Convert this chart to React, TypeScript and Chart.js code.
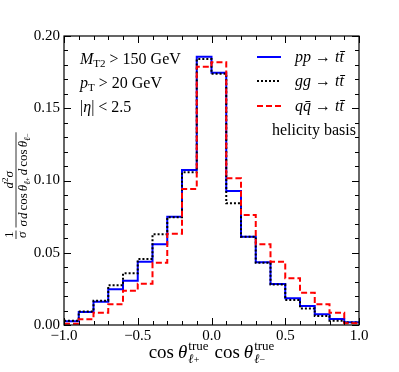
import React, { useEffect, useRef } from 'react';
import { Chart, registerables } from 'chart.js';

Chart.register(...registerables);

// ---- data ----
const binEdges = [-1.0, -0.9, -0.8, -0.7, -0.6, -0.5, -0.4, -0.3, -0.2, -0.1, 0.0, 0.1, 0.2, 0.3, 0.4, 0.5, 0.6, 0.7, 0.8, 0.9, 1.0];
const ppValues = [0.0026, 0.0090, 0.0161, 0.0247, 0.0307, 0.0438, 0.0558, 0.0750, 0.1073, 0.1857, 0.1746, 0.0927, 0.0611, 0.0434, 0.0283, 0.0185, 0.0131, 0.0074, 0.0042, 0.0019];
const ggValues = [0.0030, 0.0094, 0.0168, 0.0275, 0.0358, 0.0456, 0.0628, 0.0745, 0.1057, 0.1841, 0.1739, 0.0842, 0.0611, 0.0430, 0.0280, 0.0173, 0.0115, 0.0062, 0.0030, 0.0017];
const qqValues = [0.0008, 0.0040, 0.0085, 0.0143, 0.0237, 0.0286, 0.0431, 0.0632, 0.0941, 0.1788, 0.1818, 0.1015, 0.0761, 0.0558, 0.0438, 0.0323, 0.0224, 0.0143, 0.0085, 0.0012];
const xTickStep = 0.5;
const yTickStep = 0.05;
const cutLines = ['M_T2 > 150 GeV', 'p_T > 20 GeV', '|η| < 2.5'];
const basisLabel = 'helicity basis';

const FAM = '"Liberation Serif", "Times New Roman", serif';

type Seg = { t: string; size: number; it?: boolean; dy?: number; gap?: number };

function fontOf(s: Seg) {
  return `${s.it ? 'italic ' : ''}${s.size}px ${FAM}`;
}
function segsWidth(ctx: CanvasRenderingContext2D, segs: Seg[]) {
  let w = 0;
  for (const s of segs) {
    ctx.font = fontOf(s);
    w += ctx.measureText(s.t).width + (s.gap || 0);
  }
  return w;
}
function drawSegs(ctx: CanvasRenderingContext2D, segs: Seg[], x: number, y: number) {
  let cx = x;
  for (const s of segs) {
    ctx.font = fontOf(s);
    ctx.fillText(s.t, cx, y + (s.dy || 0));
    cx += ctx.measureText(s.t).width + (s.gap || 0);
  }
  return cx;
}

function stepData(values: number[]) {
  return binEdges.map((x, i) => ({ x, y: values[Math.min(i, values.length - 1)] }));
}

function fmt(v: number, d: number) {
  const s = Math.abs(v).toFixed(d);
  return v < -1e-9 ? '\u2212' + s : s;
}

const seriesStyles = [
  { key: 'pp', color: '#0000ff', dash: [] as number[], width: 2 },
  { key: 'gg', color: '#000000', dash: [2, 2], width: 2 },
  { key: 'qq', color: '#ff0000', dash: [6, 3], width: 2 },
];

const legendLabels: Seg[][] = [
  [
    { t: 'pp', size: 16, it: true, gap: 4 },
    { t: '\u2192', size: 16, gap: 4 },
    { t: 't', size: 16, it: true },
    { t: 't\u0304', size: 16, it: true },
  ],
  [
    { t: 'gg', size: 16, it: true, gap: 4 },
    { t: '\u2192', size: 16, gap: 4 },
    { t: 't', size: 16, it: true },
    { t: 't\u0304', size: 16, it: true },
  ],
  [
    { t: 'q', size: 16, it: true },
    { t: 'q\u0304', size: 16, it: true, gap: 4 },
    { t: '\u2192', size: 16, gap: 4 },
    { t: 't', size: 16, it: true },
    { t: 't\u0304', size: 16, it: true },
  ],
];

const decorPlugin = {
  id: 'decor',
  afterDraw(chart: any) {
    const ctx: CanvasRenderingContext2D = chart.ctx;
    const { left, right, top, bottom } = chart.chartArea;
    const xs = chart.scales.x;
    const ys = chart.scales.y;
    ctx.save();
    ctx.strokeStyle = '#000';
    ctx.fillStyle = '#000';
    ctx.lineWidth = 1;
    ctx.setLineDash([]);
    // ticks (inward, all four sides)
    ctx.beginPath();
    for (let k = -10; k <= 10; k++) {
      const px = Math.round(xs.getPixelForValue(k / 10)) + 0.5;
      const len = k % 5 === 0 ? 7 : 4;
      ctx.moveTo(px, bottom);
      ctx.lineTo(px, bottom - len);
      ctx.moveTo(px, top);
      ctx.lineTo(px, top + len);
    }
    for (let k = 0; k <= 20; k++) {
      const py = Math.round(ys.getPixelForValue(k / 100)) + 0.5;
      const len = k % 5 === 0 ? 7 : 4;
      ctx.moveTo(left, py);
      ctx.lineTo(left + len, py);
      ctx.moveTo(right, py);
      ctx.lineTo(right - len, py);
    }
    ctx.stroke();
    ctx.lineWidth = 1.2;
    ctx.strokeRect(left, top, right - left, bottom - top);

    ctx.textAlign = 'left';
    ctx.textBaseline = 'alphabetic';

    // cut annotations
    const tx = left + 16;
    drawSegs(ctx, [
      { t: 'M', size: 16, it: true },
      { t: 'T2', size: 11, dy: 3, gap: 4 },
      { t: cutLines[0].slice(5), size: 16 },
    ], tx, top + 28);
    drawSegs(ctx, [
      { t: 'p', size: 16, it: true },
      { t: 'T', size: 11, dy: 3, gap: 4 },
      { t: cutLines[1].slice(4), size: 16 },
    ], tx, top + 52);
    drawSegs(ctx, [
      { t: '|', size: 16 },
      { t: 'η', size: 16, it: true },
      { t: cutLines[2].slice(2), size: 16 },
    ], tx, top + 76);

    // legend
    const ly = [top + 21, top + 45, top + 70];
    for (let i = 0; i < 3; i++) {
      const st = seriesStyles[i];
      ctx.beginPath();
      ctx.strokeStyle = st.color;
      ctx.lineWidth = st.width;
      ctx.setLineDash(st.dash);
      ctx.moveTo(257, ly[i]);
      ctx.lineTo(281, ly[i]);
      ctx.stroke();
      ctx.setLineDash([]);
      drawSegs(ctx, legendLabels[i], 295, ly[i] + 5);
    }
    ctx.strokeStyle = '#000';
    ctx.fillStyle = '#000';
    ctx.font = `16px ${FAM}`;
    ctx.textAlign = 'right';
    ctx.fillText(basisLabel, right - 3, top + 99);
    ctx.textAlign = 'left';

    // x axis title
    const main = 19;
    const scr = 13;
    const part = (sub: string): { w: number; draw: (x: number, y: number) => void } => {
      const cosW = segsWidth(ctx, [{ t: 'cos', size: main, gap: 4 }]);
      const thW = segsWidth(ctx, [{ t: 'θ', size: main, it: true, gap: 1 }]);
      const supW = segsWidth(ctx, [{ t: 'true', size: scr }]);
      const subW = segsWidth(ctx, [{ t: 'ℓ', size: scr, it: true }, { t: sub, size: 10 }]);
      const w = cosW + thW + Math.max(supW, subW);
      return {
        w,
        draw: (x: number, y: number) => {
          drawSegs(ctx, [{ t: 'cos', size: main, gap: 4 }, { t: 'θ', size: main, it: true, gap: 1 }], x, y);
          const sx = x + cosW + thW;
          drawSegs(ctx, [{ t: 'true', size: scr }], sx, y - 8);
          drawSegs(ctx, [{ t: 'ℓ', size: scr, it: true }, { t: sub, size: 10 }], sx, y + 5);
        },
      };
    };
    const p1 = part('+');
    const p2 = part('\u2212');
    const space = 6;
    const total = p1.w + space + p2.w;
    const cx = (left + right) / 2;
    const x0 = cx - total / 2;
    p1.draw(x0, 358);
    p2.draw(x0 + p1.w + space, 358);

    // y axis title (rotated fraction)
    ctx.translate(16, 239);
    ctx.rotate(-Math.PI / 2);
    const ys1 = 13;
    const ysub = 9;
    ctx.strokeStyle = '#000';
    // 1/sigma
    const oneW = segsWidth(ctx, [{ t: '1', size: ys1 }]);
    const sigW = segsWidth(ctx, [{ t: 'σ', size: ys1, it: true }]);
    const smallW = Math.max(oneW, sigW) + 2;
    drawSegs(ctx, [{ t: '1', size: ys1 }], (smallW - oneW) / 2, -3);
    drawSegs(ctx, [{ t: 'σ', size: ys1, it: true }], (smallW - sigW) / 2, 10);
    ctx.lineWidth = 0.8;
    ctx.beginPath();
    ctx.moveTo(0, 0);
    ctx.lineTo(smallW, 0);
    ctx.stroke();
    const u0 = smallW + 3;
    const den: Seg[] = [
      { t: 'σ', size: ys1, it: true, gap: 1 },
      { t: 'd', size: ys1, it: true, gap: 2 },
      { t: 'cos', size: ys1, gap: 2 },
      { t: 'θ', size: ys1, it: true },
      { t: 'ℓ', size: ysub, it: true, dy: 3 },
      { t: '+', size: 7, dy: 3, gap: 2 },
      { t: 'd', size: ys1, it: true, gap: 2 },
      { t: 'cos', size: ys1, gap: 2 },
      { t: 'θ', size: ys1, it: true },
      { t: 'ℓ', size: ysub, it: true, dy: 3 },
      { t: '\u2212', size: 7, dy: 3 },
    ];
    const num: Seg[] = [
      { t: 'd', size: ys1, it: true },
      { t: '2', size: ysub, dy: -5 },
      { t: 'σ', size: ys1, it: true },
    ];
    const denW = segsWidth(ctx, den);
    const numW = segsWidth(ctx, num);
    const barW = denW + 2;
    ctx.beginPath();
    ctx.moveTo(u0, 0);
    ctx.lineTo(u0 + barW, 0);
    ctx.stroke();
    drawSegs(ctx, num, u0 + (barW - numW) / 2, -3);
    drawSegs(ctx, den, u0 + 1, 11);
    ctx.restore();
  },
};

export default function App() {
  const ref = useRef<HTMLCanvasElement | null>(null);
  useEffect(() => {
    const canvas = ref.current;
    if (!canvas) return;
    const mk = (values: number[], idx: number, order: number, label: string) => ({
      label,
      data: stepData(values),
      borderColor: seriesStyles[idx].color,
      borderWidth: seriesStyles[idx].width,
      borderDash: seriesStyles[idx].dash,
      stepped: 'before' as const,
      pointRadius: 0,
      fill: false,
      order,
    });
    const chart = new Chart(canvas, {
      type: 'line',
      data: {
        datasets: [
          mk(qqValues, 2, 0, 'qq→tt'),
          mk(ggValues, 1, 1, 'gg→tt'),
          mk(ppValues, 0, 2, 'pp→tt'),
        ],
      },
      options: {
        responsive: false,
        animation: false,
        devicePixelRatio: 1,
        layout: { padding: { left: 0, top: 36, right: 40, bottom: 0 } },
        plugins: { legend: { display: false }, tooltip: { enabled: false } },
        scales: {
          x: {
            type: 'linear',
            min: -1,
            max: 1,
            grid: { display: false, drawTicks: false },
            border: { display: false },
            ticks: {
              stepSize: xTickStep,
              color: '#000',
              padding: 2,
              maxRotation: 0,
              font: { family: FAM, size: 15 },
              callback: (v: any) => fmt(Number(v), 1),
            },
            afterFit: (s: any) => {
              s.height = 47;
            },
          },
          y: {
            type: 'linear',
            min: 0,
            max: 0.2,
            grid: { display: false, drawTicks: false },
            border: { display: false },
            ticks: {
              stepSize: yTickStep,
              color: '#000',
              padding: 4,
              font: { family: FAM, size: 15 },
              callback: (v: any) => fmt(Number(v), 2),
            },
            afterFit: (s: any) => {
              s.width = 64;
            },
          },
        },
      } as any,
      plugins: [decorPlugin],
    });
    return () => chart.destroy();
  }, []);
  return (
    <div style={{ position: 'absolute', left: 0, top: 0, width: 399, height: 372, background: '#fff' }}>
      <canvas ref={ref} width={399} height={372} style={{ display: 'block' }} />
    </div>
  );
}
